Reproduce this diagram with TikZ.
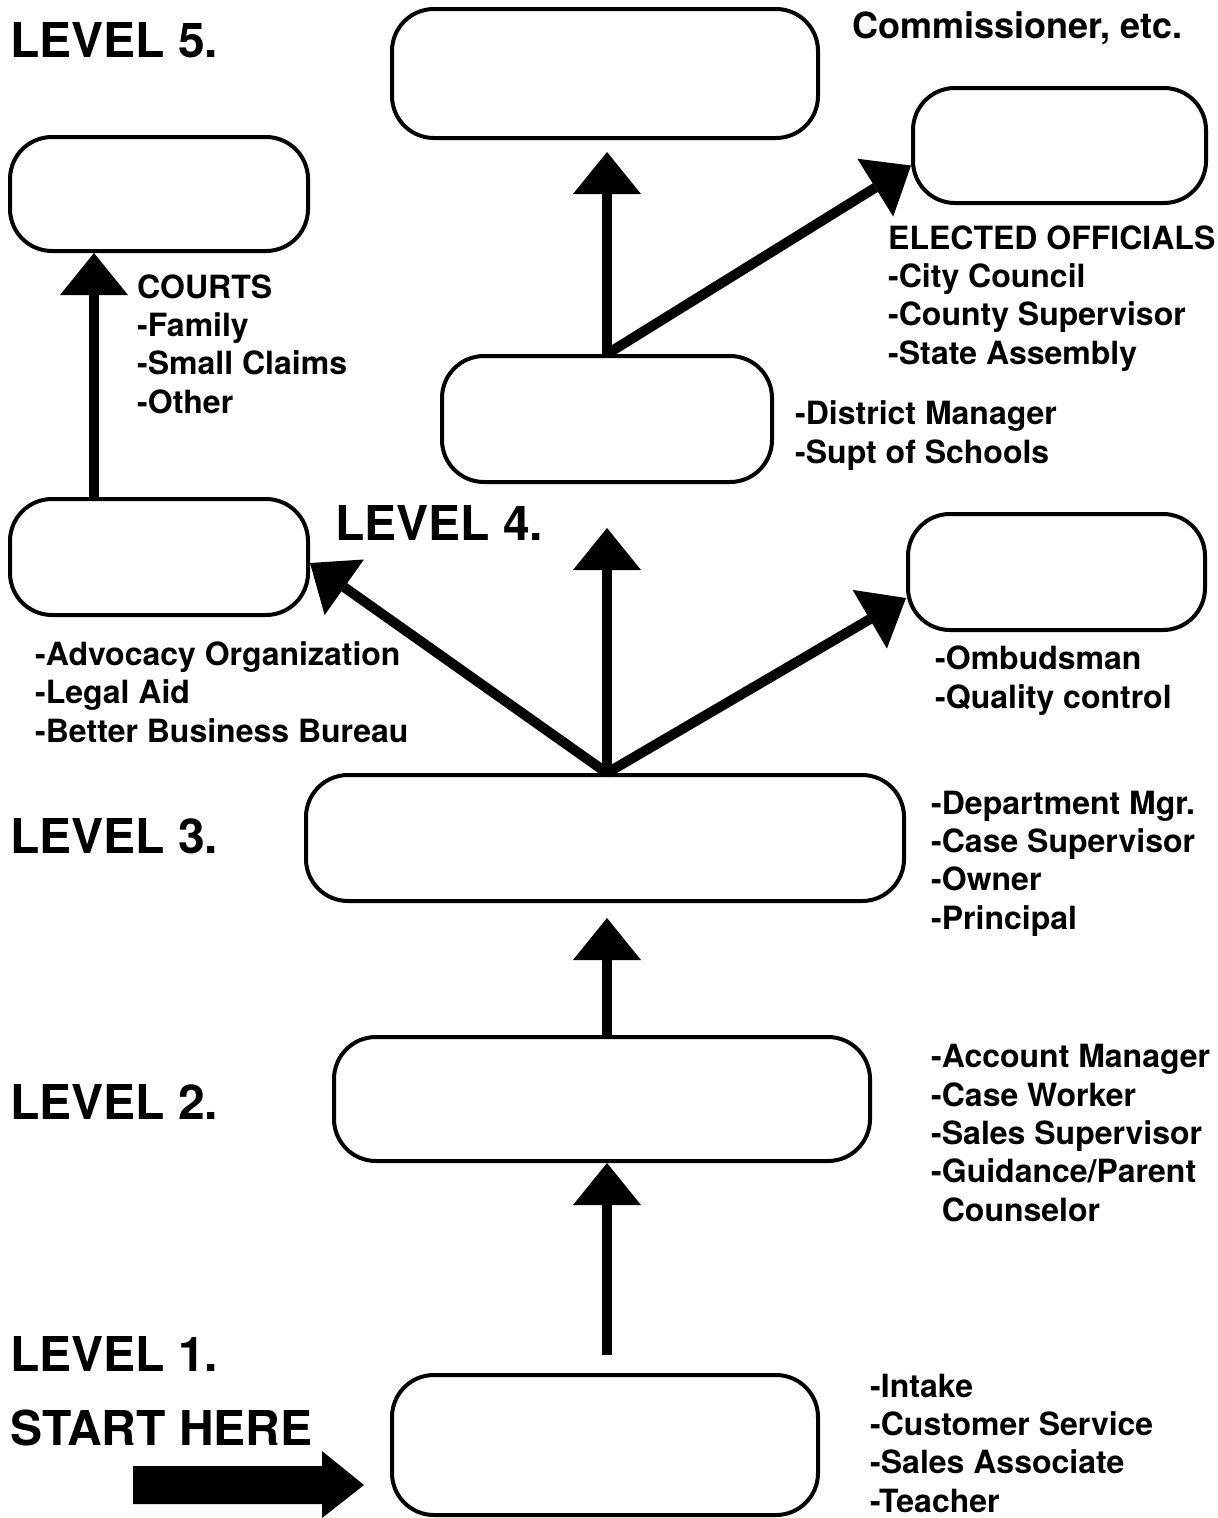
\documentclass[tikz,border=0pt]{standalone}
\usepackage{fontspec}
\setmainfont{TeX Gyre Heros}
\usetikzlibrary{arrows.meta}
\tikzset{
  stage/.style={
    draw,
    rectangle,
    rounded corners=42pt,
    line width=4pt,
    inner sep=0pt
  },
  levelname/.style={
    anchor=base west,
    inner sep=0pt,
    font=\fontsize{48}{58}\selectfont\bfseries
  },
  rolelist/.style={
    anchor=base west,
    align=left,
    inner sep=0pt,
    font=\fontsize{32}{38.3}\selectfont\bfseries
  },
  uparrow/.style={
    line width=10pt,
    -{Triangle[length=42pt,width=68pt,line width=0pt]}
  }
}

\begin{document}
\begin{tikzpicture}[x=1pt, y=-1pt]
  \useasboundingbox (0,0) rectangle (1218,1518);
  \coordinate (axis) at (607,0);

  \node[stage, minimum width=426pt, minimum height=129pt] (commish) at (605,73.5) {};
  \node[stage, minimum width=293pt, minimum height=115pt] (elected) at (1059.5,145.5) {};
  \node[stage, minimum width=298pt, minimum height=114pt] (courts) at (159,194) {};
  \node[stage, minimum width=330pt, minimum height=126pt] (district) at (607,419) {};
  \node[stage, minimum width=298pt, minimum height=116pt] (advocacy) at (159,557) {};
  \node[stage, minimum width=297pt, minimum height=116pt] (ombuds) at (1056.5,572) {};
  \node[stage, minimum width=598pt, minimum height=126pt] (lvlthree) at (605,838) {};
  \node[stage, minimum width=536pt, minimum height=124pt] (lvltwo) at (602,1099) {};
  \node[stage, minimum width=426pt, minimum height=140pt] (lvlone) at (605,1445) {};

  \node[levelname] (lfive) at (10,57) {LEVEL 5.};
  \node[levelname] (lfour) at (335,540) {LEVEL 4.};
  \node[levelname] (lthree) at (10,853) {LEVEL 3.};
  \node[levelname] (ltwo) at (10,1119) {LEVEL 2.};
  \node[levelname] (lone) at (10,1371) {LEVEL 1.};
  \node[levelname] (start) at (10,1445) {START HERE};

  % multi-line lists sit on the baseline of their last line
  \node[rolelist, font=\fontsize{36}{43}\selectfont\bfseries] (commtext) at (852,38) {Commissioner, etc.};
  \node[rolelist] (electtext) at (888,364) {ELECTED OFFICIALS\\-City Council\\-County Supervisor\\-State Assembly};
  \node[rolelist] (courttext) at (137,413) {COURTS\\-Family\\-Small Claims\\-Other};
  \node[rolelist] (disttext) at (795,463) {-District Manager\\-Supt of Schools};
  \node[rolelist] (advtext) at (35,742) {-Advocacy Organization\\-Legal Aid\\-Better Business Bureau};
  \node[rolelist] (ombtext) at (935,708) {-Ombudsman\\-Quality control};
  \node[rolelist] (threetext) at (931,929) {-Department Mgr.\\-Case Supervisor\\-Owner\\-Principal};
  \node[rolelist] (twotext) at (931,1221) {-Account Manager\\-Case Worker\\-Sales Supervisor\\-Guidance/Parent\\\phantom{-}Counselor};
  \node[rolelist] (onetext) at (870,1512) {-Intake\\-Customer Service\\-Sales Associate\\-Teacher};

  \draw[uparrow] ([yshift=18pt]lvlone.north -| axis) -- (lvltwo.south -| axis);
  \draw[uparrow] (lvltwo.north -| axis) -- ([yshift=-15pt]lvlthree.south -| axis);
  \draw[uparrow] (lvlthree.north -| axis) -- ([yshift=-44pt]district.south -| axis);
  \draw[uparrow] (lvlthree.north -| axis) -- ([yshift=-6pt]advocacy.east);
  \draw[uparrow] (lvlthree.north -| axis) -- ([yshift=-26pt]ombuds.west);
  \draw[uparrow] ([xshift=-65pt]advocacy.north) -- ([xshift=-65pt]courts.south);
  \draw[uparrow] (district.north -| axis) -- ([yshift=-12pt]commish.south -| axis);
  \draw[uparrow] (district.north -| axis) -- ([yshift=-20pt]elected.west);

  \fill (133,1466) -- (322,1466) -- (322,1451) -- (364,1485) -- (322,1518) -- (322,1504) -- (133,1504) -- cycle;
\end{tikzpicture}
\end{document}
